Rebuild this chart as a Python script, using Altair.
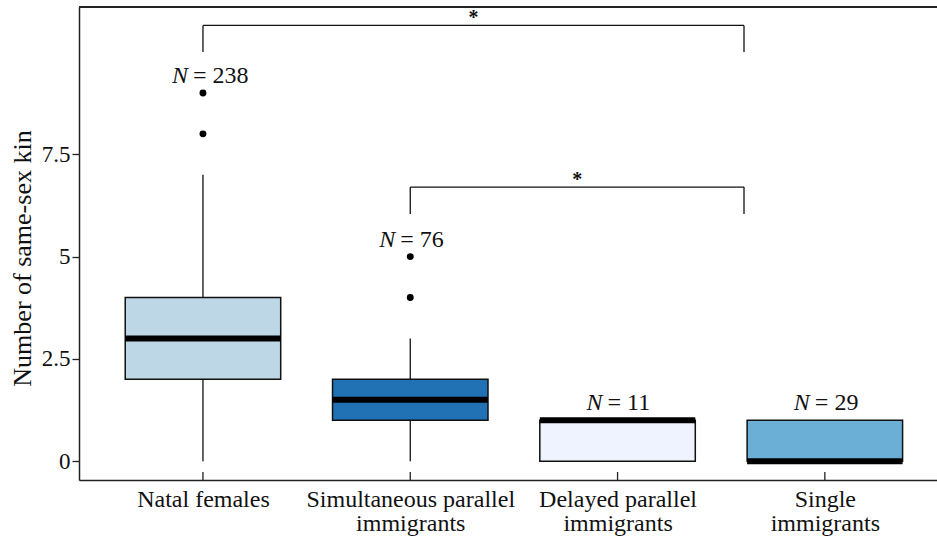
import json
import altair as alt
import pandas as pd

# ---- data ----
categories = ["Natal females", "Simultaneous parallel immigrants",
              "Delayed parallel immigrants", "Single immigrants"]
label_lines = [["Natal females"], ["Simultaneous parallel", "immigrants"],
               ["Delayed parallel", "immigrants"], ["Single", "immigrants"]]
whisker_low = [0, 0, 0, 0]
q1 = [2, 1, 0, 0]
median = [3, 1.5, 1, 0]
q3 = [4, 2, 1, 1]
whisker_high = [7, 3, 1, 1]
outliers = [[8, 9], [4, 5], [], []]
n_values = [238, 76, 11, 29]
box_colors = ["#bdd7e7", "#2171b5", "#eff3ff", "#6baed6"]
y_ticks = [0, 2.5, 5, 7.5]

bracket_start = [0, 1]
bracket_end = [2.61, 2.61]
bracket_top = [10.65, 6.7]
bracket_leg = [10.0, 6.04]
bracket_text = ["*", "*"]

# ---- tables ----
pos = list(range(len(categories)))
boxes = pd.DataFrame({
    "cat": categories, "pos": pos, "lo": whisker_low, "q1": q1,
    "med": median, "q3": q3, "hi": whisker_high, "color": box_colors,
    "n": [f"= {v}" for v in n_values],
    "top": [max(o) if o else h for o, h in zip(outliers, whisker_high)],
})
out_df = pd.DataFrame([{"pos": i, "v": v} for i, o in enumerate(outliers) for v in o])
br = pd.DataFrame({"a": bracket_start, "b": bracket_end, "yt": bracket_top,
                   "yl": bracket_leg, "t": bracket_text})
br["mid"] = (br["a"] + br["b"]) / 2
legs = pd.DataFrame([{"x": r[c], "yt": r["yt"], "yl": r["yl"]}
                     for _, r in br.iterrows() for c in ("a", "b")])

FONT = "Liberation Serif"
W, H = 858, 473
HALF = 0.375

xs = alt.Scale(domain=[-0.598, 3.541], nice=False, zero=False)
ys = alt.Scale(domain=[-0.46, 11.1], nice=False, zero=False)
label_expr = json.dumps(label_lines) + "[datum.value]"
xaxis = alt.Axis(values=pos, ticks=False, tickSize=0, labelExpr=label_expr,
                 labelFont=FONT, labelFontSize=24, labelColor="#111",
                 labelPadding=7, labelLineHeight=24, labelOverlap=False,
                 labelLimit=0, labelBound=False, labelFlush=False, grid=False,
                 domainColor="#222", domainWidth=1.5)
yaxis = alt.Axis(values=y_ticks, labelExpr="toString(datum.value)", tickSize=7,
                 tickColor="#222", tickWidth=1.3, labelPadding=2,
                 labelFont=FONT, labelFontSize=23, labelColor="#111",
                 grid=False, domainColor="#222", domainWidth=1.5,
                 titleFont=FONT, titleFontSize=26, titleFontWeight="normal",
                 titleColor="#111", titleAngle=270, titleX=-49, titleY=251,
                 titleBaseline="alphabetic", titleAlign="center")
YT = "Number of same-sex kin"


def X(f):
    return alt.X(f, type="quantitative", scale=xs, axis=xaxis, title=None)


def Y(f):
    return alt.Y(f, type="quantitative", scale=ys, axis=yaxis, title=YT)


base = alt.Chart(boxes)

whiskers = base.mark_rule(color="#111", strokeWidth=1.3).encode(
    x=X("pos"), y=Y("lo"), y2="hi")

box = base.transform_calculate(
    xl=f"datum.pos - {HALF}", xr=f"datum.pos + {HALF}"
).mark_bar(stroke="#111", strokeWidth=1.5).encode(
    x=X("xl"), x2="xr", y=Y("q1"), y2="q3",
    color=alt.Color("color:N", scale=None))

med = base.transform_calculate(
    xl=f"datum.pos - {HALF}", xr=f"datum.pos + {HALF}"
).mark_rule(color="black", strokeWidth=6).encode(
    x=X("xl"), x2="xr", y=Y("med"))

pts = alt.Chart(out_df).mark_circle(color="black", opacity=1, size=48).encode(
    x=X("pos"), y=Y("v"))

n_italic = base.mark_text(font=FONT, fontSize=24, fontStyle="italic",
                          align="right", baseline="alphabetic", dx=-15, dy=-10,
                          color="#111").encode(
    x=X("pos"), y=Y("top"), text=alt.value("N"))
n_rest = base.mark_text(font=FONT, fontSize=24, align="left",
                        baseline="alphabetic", dx=-10, dy=-10,
                        color="#111").encode(
    x=X("pos"), y=Y("top"), text="n:N")

xticks = base.mark_rule(color="#222", strokeWidth=1.3).encode(
    x=X("pos"), y=alt.value(H - 8), y2=alt.value(H))

br_h = alt.Chart(br).mark_rule(color="#111", strokeWidth=1.3).encode(
    x=X("a"), x2="b", y=Y("yt"))
br_v = alt.Chart(legs).mark_rule(color="#111", strokeWidth=1.3).encode(
    x=X("x"), y=Y("yl"), y2="yt")
br_t = alt.Chart(br).mark_text(font=FONT, fontSize=20, fontWeight="bold",
                               baseline="alphabetic", dy=-1,
                               color="#111").encode(
    x=X("mid"), y=Y("yt"), text="t:N")

top_line = alt.Chart(boxes).mark_rule(color="#222", strokeWidth=1.5).encode(
    x=alt.value(0), x2=alt.value(W), y=alt.value(0))

chart = alt.layer(
    whiskers, box, med, pts, n_italic, n_rest, xticks, br_h, br_v, br_t, top_line
).properties(
    width=W, height=H,
    padding={"left": 79, "top": 7, "right": 0, "bottom": 56},
    autosize=alt.AutoSizeParams(type="none"),
    background="white",
).configure_view(stroke=None).configure(font=FONT)

chart.save("out.html", embed_options={"renderer": "svg", "actions": False})
